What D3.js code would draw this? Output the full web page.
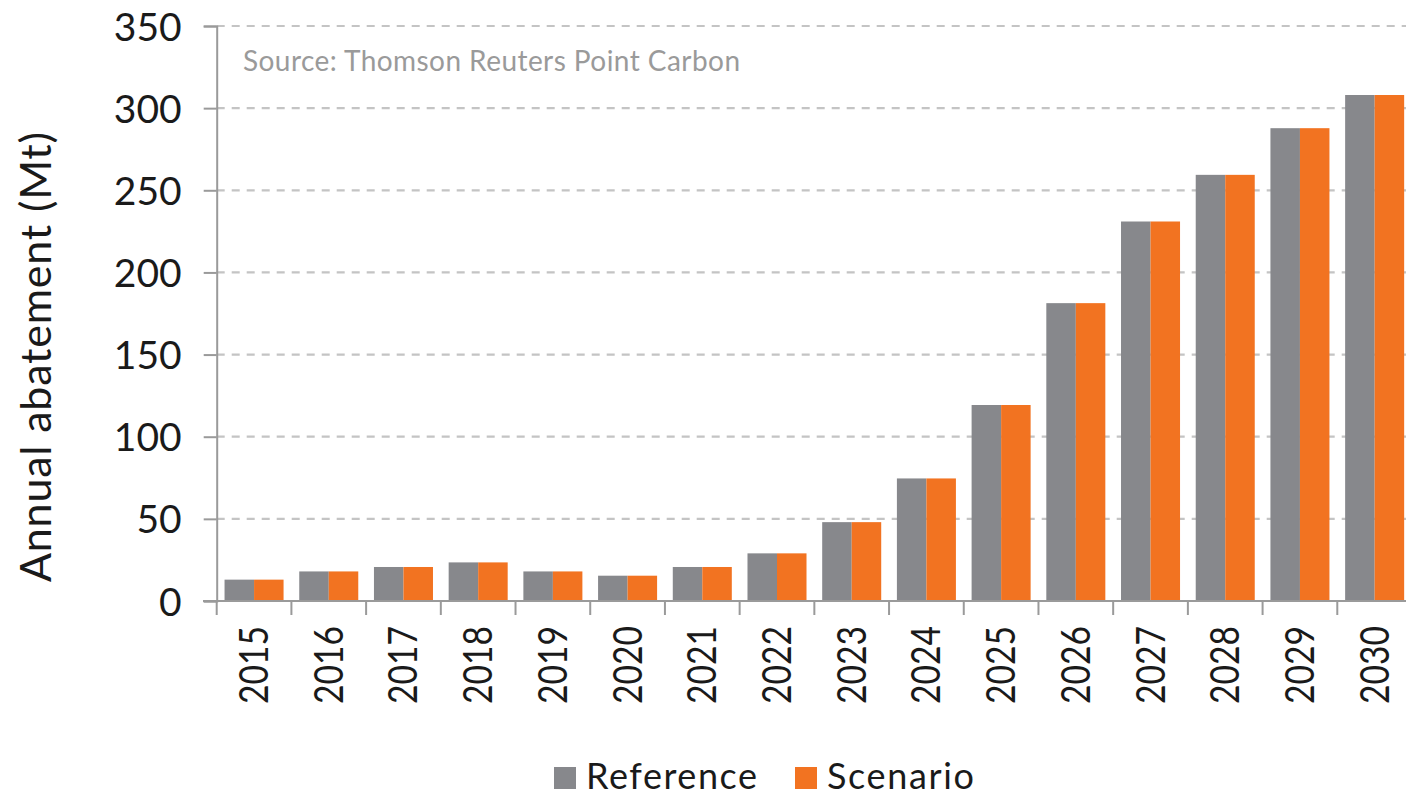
<!DOCTYPE html>
<html>
<head>
<meta charset="utf-8">
<script src="https://cdn.jsdelivr.net/npm/d3@7"></script>
<style>
  body { margin: 0; background: #fff; }
  text { font-family: Lato, "Open Sans", sans-serif; }
</style>
</head>
<body>
<div id="chart"></div>
<script>
const years = ['2015', '2016', '2017', '2018', '2019', '2020', '2021', '2022',
    '2023', '2024', '2025', '2026', '2027', '2028', '2029', '2030']
const reference = [13, 18, 20.7, 23.5, 18, 15.4, 20.7, 29, 48, 74.6, 119.3, 181.3, 231, 259.4, 287.8, 308]
const scenario = [13, 18, 20.7, 23.5, 18, 15.4, 20.7, 29, 48, 74.6, 119.3, 181.3, 231, 259.4, 287.8, 308]
const seriesNames = ['Reference', 'Scenario']
const yTicks = [0, 50, 100, 150, 200, 250, 300, 350]

const width = 1406
const height = 796
const colors = {Reference: '#87888c', Scenario: '#f27321'}
const legendWidths = {Reference: 171, Scenario: 147}

const rows = years.map((year, i) => ({year, Reference: reference[i], Scenario: scenario[i]}))

const svg = d3.select('#chart')
    .append('svg')
    .attr('width', width)
    .attr('height', height)

// scales
const x = d3.scaleBand()
    .domain(years)
    .range([216.7, 1412])
    .paddingInner(0.21)
    .paddingOuter(0.105)

const x1 = d3.scaleBand()
    .domain(seriesNames)
    .range([0, x.bandwidth()])

const y = d3.scaleLinear()
    .domain([0, 350])
    .range([601, 26])

// dashed grid
svg.append('g')
    .selectAll('line')
    .data(yTicks.filter(d => d > 0))
    .enter()
    .append('line')
    .attr('x1', x.range()[0])
    .attr('x2', width)
    .attr('y1', d => y(d))
    .attr('y2', d => y(d))
    .attr('stroke', '#c4c4c4')
    .attr('stroke-width', 2.2)
    .attr('stroke-dasharray', '8,7')

svg.append('text')
    .attr('x', 243)
    .attr('y', 71)
    .attr('fill', '#9a9a9a')
    .style('font-size', '28px')
    .attr('textLength', 497)
    .text('Source: Thomson Reuters Point Carbon')

// bars
const groups = svg.append('g')
    .selectAll('g')
    .data(rows)
    .enter()
    .append('g')
    .attr('transform', d => 'translate(' + x(d.year) + ',0)')

groups.selectAll('rect')
    .data(d => seriesNames.map(key => ({key, value: d[key]})))
    .enter()
    .append('rect')
    .attr('x', d => x1(d.key))
    .attr('width', x1.bandwidth())
    .attr('y', d => y(d.value))
    .attr('height', d => y(0) - y(d.value))
    .attr('fill', d => colors[d.key])

// y axis
const yAxis = svg.append('g')
    .attr('transform', 'translate(' + x.range()[0] + ',0)')
    .call(d3.axisLeft(y).tickValues(yTicks).tickSize(13).tickPadding(22))
yAxis.select('.domain').attr('stroke', '#9a9a9a').attr('stroke-width', 2)
yAxis.selectAll('.tick line').attr('stroke', '#9a9a9a').attr('stroke-width', 2)
yAxis.selectAll('.tick text')
    .attr('fill', '#1a1a1a')
    .style('font-size', '39px')
    .attr('dy', '0.36em')

// x axis line and tick marks between categories
const step = x.step()
const boundaries = years.map(d => x(d) - step * x.paddingInner() / 2)
svg.append('line')
    .attr('x1', 203)
    .attr('x2', width)
    .attr('y1', y(0))
    .attr('y2', y(0))
    .attr('stroke', '#9a9a9a')
    .attr('stroke-width', 2)
svg.append('g')
    .selectAll('line')
    .data(boundaries)
    .enter()
    .append('line')
    .attr('x1', d => d)
    .attr('x2', d => d)
    .attr('y1', y(0))
    .attr('y2', y(0) + 14)
    .attr('stroke', '#9a9a9a')
    .attr('stroke-width', 2)

svg.append('g')
    .selectAll('text')
    .data(years)
    .enter()
    .append('text')
    .attr('transform', d => 'translate(' + (x(d) + x.bandwidth() / 2 + 14) + ',626) rotate(-90) scale(0.82,1)')
    .attr('text-anchor', 'end')
    .attr('fill', '#1a1a1a')
    .style('font-size', '41px')
    .text(d => d)

// y title
svg.append('text')
    .attr('transform', 'translate(51,357) rotate(-90)')
    .attr('text-anchor', 'middle')
    .attr('fill', '#1a1a1a')
    .style('font-size', '43px')
    .attr('textLength', 450)
    .text('Annual abatement (Mt)')

// legend
const legend = svg.append('g')
    .selectAll('g')
    .data(seriesNames)
    .enter()
    .append('g')
    .attr('transform', (d, i) => 'translate(' + (554 + i * 241) + ',767)')
legend.append('rect')
    .attr('width', 22)
    .attr('height', 22)
    .attr('fill', d => colors[d])
legend.append('text')
    .attr('x', 32)
    .attr('y', 22)
    .attr('fill', '#1a1a1a')
    .style('font-size', '36px')
    .attr('textLength', d => legendWidths[d])
    .text(d => d)
</script>
</body>
</html>
